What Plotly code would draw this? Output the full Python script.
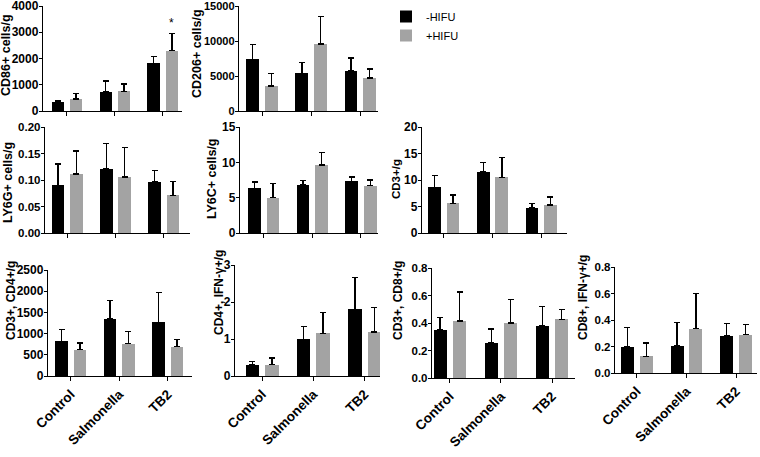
import plotly.graph_objects as go

# ---------------- data ----------------
categories = ["Control", "Salmonella", "TB2"]
series_names = ["-HIFU", "+HIFU"]

cd86_minus = [350, 720, 1810]
cd86_minus_err = [60, 430, 260]
cd86_plus = [460, 750, 2300]
cd86_plus_err = [200, 280, 650]

cd206_minus = [7400, 5400, 5700]
cd206_minus_err = [2100, 1500, 1900]
cd206_plus = [3600, 9600, 4700]
cd206_plus_err = [1800, 3900, 1300]

ly6g_minus = [0.090, 0.121, 0.096]
ly6g_minus_err = [0.040, 0.048, 0.022]
ly6g_plus = [0.111, 0.106, 0.071]
ly6g_plus_err = [0.044, 0.055, 0.026]

ly6c_minus = [6.3, 6.8, 7.3]
ly6c_minus_err = [0.9, 0.6, 0.6]
ly6c_plus = [5.0, 9.6, 6.7]
ly6c_plus_err = [2.0, 1.8, 0.8]

cd3_minus = [8.6, 11.5, 4.7]
cd3_minus_err = [2.3, 1.8, 0.9]
cd3_plus = [5.6, 10.5, 5.3]
cd3_plus_err = [1.6, 3.7, 1.5]

cd3cd4_minus = [820, 1350, 1266]
cd3cd4_minus_err = [270, 430, 700]
cd3cd4_plus = [620, 760, 690]
cd3cd4_plus_err = [160, 295, 170]

cd4ifn_minus = [0.31, 0.99, 1.80]
cd4ifn_minus_err = [0.09, 0.35, 0.86]
cd4ifn_plus = [0.31, 1.15, 1.19]
cd4ifn_plus_err = [0.18, 0.56, 0.66]

cd3cd8_minus = [0.35, 0.256, 0.38]
cd3cd8_minus_err = [0.09, 0.10, 0.14]
cd3cd8_plus = [0.415, 0.40, 0.427]
cd3cd8_plus_err = [0.21, 0.17, 0.073]

cd8ifn_minus = [0.198, 0.205, 0.28]
cd8ifn_minus_err = [0.145, 0.175, 0.095]
cd8ifn_plus = [0.125, 0.335, 0.29]
cd8ifn_plus_err = [0.10, 0.265, 0.075]

panel_titles = ["CD86+ cells/g", "CD206+ cells/g", "LY6G+ cells/g", "LY6C+ cells/g",
                "CD3+/g", "CD3+, CD4+/g", "CD4+, IFN-γ+/g", "CD3+, CD8+/g", "CD8+, IFN-γ+/g"]
panel_ymax = [4000, 15000, 0.20, 15, 20, 2500, 3, 0.8, 0.8]
panel_dtick = [1000, 5000, 0.05, 5, 5, 500, 1, 0.2, 0.2]
panel_fmt = ["d", "d", ".2f", "d", "d", "d", "d", ".1f", ".1f"]
panel_minus = [cd86_minus, cd206_minus, ly6g_minus, ly6c_minus, cd3_minus,
               cd3cd4_minus, cd4ifn_minus, cd3cd8_minus, cd8ifn_minus]
panel_minus_err = [cd86_minus_err, cd206_minus_err, ly6g_minus_err, ly6c_minus_err, cd3_minus_err,
                   cd3cd4_minus_err, cd4ifn_minus_err, cd3cd8_minus_err, cd8ifn_minus_err]
panel_plus = [cd86_plus, cd206_plus, ly6g_plus, ly6c_plus, cd3_plus,
              cd3cd4_plus, cd4ifn_plus, cd3cd8_plus, cd8ifn_plus]
panel_plus_err = [cd86_plus_err, cd206_plus_err, ly6g_plus_err, ly6c_plus_err, cd3_plus_err,
                  cd3cd4_plus_err, cd4ifn_plus_err, cd3cd8_plus_err, cd8ifn_plus_err]

# ---------------- layout (pixels) ----------------
W, H = 760, 457
# (axis x0, axis x1, y top, y bottom, x range left, x range right,
#  title size, show x labels, title centre x, title centre y, tick font size)
panel_box = [
    (43, 182, 6, 111, -0.50, 2.40, 12.5, False, 6, 55, 12),
    (239, 378, 6, 111, -0.47, 2.36, 12.5, False, 197, 53, 11),
    (45, 190, 127, 233, -0.46, 2.54, 12.5, False, 8, 183, 11.5),
    (240, 378, 127, 233, -0.49, 2.35, 12.5, False, 212, 178, 12),
    (422, 567, 127, 233, -0.45, 2.53, 11.5, False, 396, 179, 12),
    (48, 192, 270, 376, -0.47, 2.50, 12, True, 11, 301, 12),
    (235, 380, 265, 376, -0.53, 2.30, 12, True, 219, 293, 12),
    (432, 575, 268, 378, -0.35, 2.45, 12, True, 398, 301, 11.5),
    (615, 757, 267, 373, -0.44, 2.42, 12, True, 583, 298, 11.5),
]

BLACK = "#000000"
GRAY = "#a3a3a3"
BAR_W = 0.26
FONT = "Liberation Sans, Arial, sans-serif"

fig = go.Figure()
xpos = list(range(len(categories)))

for i in range(9):
    n = i + 1
    xa = "x" if n == 1 else f"x{n}"
    ya = "y" if n == 1 else f"y{n}"
    for vals, errs, color, name, off in [
        (panel_minus[i], panel_minus_err[i], BLACK, series_names[0], -0.32),
        (panel_plus[i], panel_plus_err[i], GRAY, series_names[1], 0.06),
    ]:
        fig.add_trace(go.Bar(
            x=xpos, y=vals, width=BAR_W, offset=off,
            marker=dict(color=color, line=dict(width=0)),
            error_y=dict(type="data", symmetric=False, array=errs,
                         arrayminus=[0] * len(errs), color="black",
                         thickness=1.4, width=3),
            name=name, legendgroup=name, showlegend=(n == 1),
            xaxis=xa, yaxis=ya,
        ))

    x0, x1, yt, yb, xl, xr, tsize, showx, tx, ty, tfs = panel_box[i]
    xkey = "xaxis" if n == 1 else f"xaxis{n}"
    ykey = "yaxis" if n == 1 else f"yaxis{n}"
    fig.layout[xkey] = dict(
        domain=[x0 / W, x1 / W], range=[xl, xr], anchor=ya, automargin=False,
        tickmode="array", tickvals=xpos, ticktext=categories,
        showticklabels=showx, tickangle=-45,
        tickfont=dict(family=FONT, size=13.5, color="black", weight="bold"),
        ticks="outside", ticklen=4, tickwidth=1.4, tickcolor="black",
        showline=True, linecolor="black", linewidth=1.4,
        showgrid=False, zeroline=False, ticklabeloverflow="allow",
    )
    fig.layout[ykey] = dict(
        domain=[1 - yb / H, 1 - yt / H], range=[0, panel_ymax[i]], anchor=xa,
        automargin=False,
        dtick=panel_dtick[i], tick0=0, tickformat=panel_fmt[i],
        tickfont=dict(family=FONT, size=tfs, color="black", weight="bold"),
        ticks="outside", ticklen=3, tickwidth=1.4, tickcolor="black",
        ticklabelstandoff=-2,
        showline=True, linecolor="black", linewidth=1.4,
        showgrid=False, zeroline=False, ticklabeloverflow="allow",
    )
    fig.add_annotation(
        x=tx / W, y=1 - ty / H, xref="paper", yref="paper",
        text=panel_titles[i], textangle=-90, showarrow=False,
        xanchor="center", yanchor="middle",
        font=dict(family=FONT, size=tsize, color="black", weight="bold"),
    )

# significance star above TB2 +HIFU in CD86 panel
fig.add_annotation(
    x=2 + 0.06 + BAR_W / 2, y=cd86_plus[2] + cd86_plus_err[2],
    xref="x", yref="y", text="*", showarrow=False, yanchor="bottom", yshift=2,
    font=dict(family=FONT, size=12, color="black"),
)

fig.update_layout(
    template="none",
    width=W, height=H, margin=dict(l=0, r=0, t=0, b=0, pad=0),
    paper_bgcolor="white", plot_bgcolor="white",
    barmode="overlay", bargap=0,
    showlegend=True,
    legend=dict(x=386 / W, y=1 - 2 / H, xanchor="left", yanchor="top",
                font=dict(family=FONT, size=11, color="black"),
                bgcolor="rgba(0,0,0,0)", tracegroupgap=0, itemclick=False),
)

fig.write_html("out.html", config={"displayModeBar": False},
               post_script="document.body.style.margin='0';")
